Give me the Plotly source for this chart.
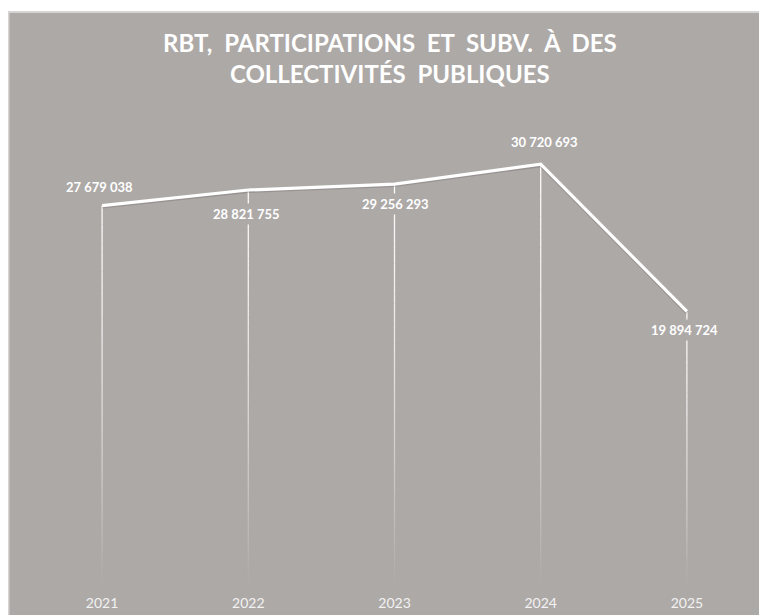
import plotly.graph_objects as go

years = ["2021", "2022", "2023", "2024", "2025"]
values = [27679038, 28821755, 29256293, 30720693, 19894724]
title_lines = ["RBT,  PARTICIPATIONS  ET  SUBV.  À  DES", "COLLECTIVITÉS  PUBLIQUES"]

BG = "#ADA9A7"
W, H = 767, 615
ML, MR, MT, MB = 21, 15, 98, 38
PW = W - ML - MR
PH = H - MT - MB

xs = list(range(len(years)))


def fmt(v):
    return f"{v:,}".replace(",", " ")


def px_to_paper_x(px):
    return (px - ML) / PW


def py_to_paper_y(py):
    return 1 + (MT - py) / PH


fig = go.Figure()

# drop lines with fade towards the axis
N = 40
for xi, v in zip(xs, values):
    segx, segy, cols = [], [], []
    for i in range(N):
        y0 = v * (1 - i / N)
        y1 = v * (1 - (i + 1) / N)
        frac = i / N
        op = max(0.03, 0.95 * (1 - frac ** 1.5))
        fig.add_trace(go.Scatter(
            x=[xi, xi], y=[y0, y1], mode="lines",
            line=dict(color=f"rgba(255,255,255,{op:.3f})", width=1.3),
            hoverinfo="skip", showlegend=False,
        ))

# subtle shadow under main line
fig.add_trace(go.Scatter(
    x=xs, y=[v - 90000 for v in values], mode="lines",
    line=dict(color="rgba(90,85,85,0.25)", width=3.5),
    hoverinfo="skip", showlegend=False,
))
fig.add_trace(go.Scatter(
    x=xs, y=values, mode="lines",
    line=dict(color="white", width=3.2),
    hoverinfo="skip", showlegend=False,
))

shapes = []
# white strip at top and light border
shapes.append(dict(type="rect", xref="paper", yref="paper",
                   x0=px_to_paper_x(-5), x1=px_to_paper_x(W + 5), y0=py_to_paper_y(3), y1=py_to_paper_y(-5),
                   fillcolor="white", line=dict(width=0), layer="above"))
shapes.append(dict(type="line", xref="paper", yref="paper",
                   x0=px_to_paper_x(0.75), x1=px_to_paper_x(0.75), y0=py_to_paper_y(H + 5), y1=py_to_paper_y(3),
                   line=dict(color="#D6D4D3", width=1.5), layer="above"))
shapes.append(dict(type="line", xref="paper", yref="paper",
                   x0=px_to_paper_x(0), x1=px_to_paper_x(W + 5), y0=py_to_paper_y(3.75), y1=py_to_paper_y(3.75),
                   line=dict(color="#D6D4D3", width=1.5), layer="above"))

# data labels
offsets = [(-3, 19), (-2, -24), (1, -20), (4, 22), (-2, -19)]
annotations = []
for xi, v, (dx, dy) in zip(xs, values, offsets):
    annotations.append(dict(
        x=xi, y=v, xref="x", yref="y", text=f"<b>{fmt(v)}</b>", showarrow=False,
        xshift=dx, yshift=dy, bgcolor=BG, borderpad=2,
        font=dict(family="Lato, Open Sans, sans-serif", size=13, color="white"),
    ))

# title
annotations.append(dict(
    x=px_to_paper_x(382), y=py_to_paper_y(50), xref="paper", yref="paper",
    text="<b>" + "<br>".join(title_lines) + "</b>", showarrow=False,
    xanchor="center", yanchor="middle", align="center",
    font=dict(family="Liberation Sans Narrow, Lato, sans-serif", size=24, color="white"),
))

fig.update_layout(
    width=W, height=H,
    margin=dict(l=ML, r=MR, t=MT, b=MB),
    paper_bgcolor=BG, plot_bgcolor=BG,
    shapes=shapes, annotations=annotations,
    showlegend=False,
    xaxis=dict(range=[-0.5, 4.5], tickmode="array", tickvals=xs, ticktext=years,
               showgrid=False, zeroline=False, showline=False,
               ticks="outside", ticklen=8, tickcolor="rgba(0,0,0,0)",
               tickfont=dict(family="Lato, Open Sans, sans-serif", size=14, color="#F2F2F2")),
    yaxis=dict(range=[0, 35000000], visible=False, showgrid=False, zeroline=False),
)

fig.write_html("out.html")
